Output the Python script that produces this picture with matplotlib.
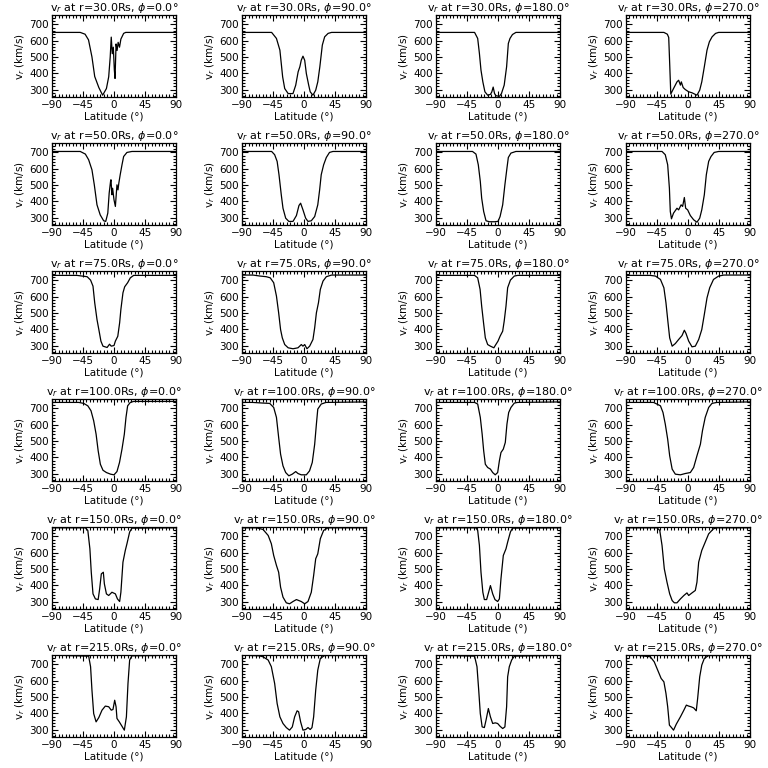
import matplotlib
matplotlib.use('Agg')
import matplotlib.pyplot as plt
from matplotlib.ticker import MultipleLocator

radii = [30.0, 50.0, 75.0, 100.0, 150.0, 215.0]
phis = [0.0, 90.0, 180.0, 270.0]
x_ticks = [-90, -45, 0, 45, 90]
y_ticks = [300, 400, 500, 600, 700]

# ---- r = 30 Rs ----
lat_r30_p0 = [-90, -49, -42, -37, -32, -28, -22, -16.5, -11, -7.7, -5.5, -4, -2.5, -1, 0.5, 1.5, 3, 4.5, 6, 8, 10, 14, 17, 90]
v_r30_p0 = [651, 651, 640, 605, 500, 380, 312, 265, 306, 378, 500, 622, 520, 560, 420, 368, 580, 540, 590, 560, 610, 645, 651, 651]
lat_r30_p90 = [-90, -47, -40, -35, -31, -28, -23, -16, -12, -8.5, -6, -4, -1.5, 1, 3.4, 6.8, 9, 13, 17, 20, 23, 26.6, 30, 35, 40, 90]
v_r30_p90 = [651, 651, 614, 542, 378, 306, 275, 275, 327, 409, 440, 480, 505, 480, 398, 327, 286, 265, 296, 347, 440, 573, 624, 645, 651, 651]
lat_r30_p180 = [-90, -34, -29.5, -27, -24.7, -22, -19, -15, -11, -9, -7, -5, -3, 2, 5, 9, 12.5, 15, 17.4, 21, 26, 90]
v_r30_p180 = [651, 651, 614, 522, 419, 347, 286, 265, 270, 285, 315, 275, 262, 258, 275, 327, 440, 583, 614, 638, 651, 651]
lat_r30_p270 = [-90, -35, -30, -28, -26.5, -25, -21, -16, -13.6, -11, -9.7, -7, -4, 1, 5.8, 13, 17, 20, 23.7, 27.6, 31, 35, 40, 44.5, 90]
v_r30_p270 = [651, 651, 640, 620, 450, 272, 306, 347, 357, 327, 347, 312, 300, 286, 280, 265, 296, 347, 440, 542, 593, 624, 645, 651, 651]

# ---- r = 50 Rs ----
lat_r50_p0 = [-90, -49, -41.6, -36.8, -32, -28.6, -24.7, -20, -15, -12, -9, -7, -5, -4.4, -3, -2, 0, 2, 4.3, 5.8, 7, 9, 11.6, 14, 18.8, 26, 90]
v_r50_p0 = [706, 706, 690, 655, 593, 501, 378, 316, 280, 276, 327, 450, 522, 532, 440, 480, 409, 368, 501, 470, 511, 563, 624, 675, 700, 706, 706]
lat_r50_p90 = [-90, -47, -42.6, -39, -36.3, -33, -30.5, -26.6, -22, -16, -11, -7.3, -4.9, -1.5, 2.4, 5.8, 10.6, 15.5, 20, 22.7, 25, 28.5, 32.4, 37, 42, 90]
v_r50_p90 = [706, 706, 686, 645, 563, 440, 357, 296, 276, 276, 312, 374, 388, 347, 296, 276, 280, 306, 378, 470, 563, 624, 669, 700, 706, 706]
lat_r50_p180 = [-90, -37, -32, -28.6, -25.7, -23.7, -20.8, -17.4, -12.6, -5, 0, 3, 6.8, 10, 13, 15, 18.8, 26, 90]
v_r50_p180 = [706, 706, 690, 624, 522, 419, 337, 280, 274, 274, 276, 306, 378, 501, 604, 669, 696, 706, 706]
lat_r50_p270 = [-90, -37.7, -33, -29.5, -27, -25.7, -24, -21, -16, -13.6, -10, -7.8, -5.3, -3.4, -0.5, 3.4, 8.2, 13, 17, 20, 23.7, 26.6, 30, 33.4, 38, 44.5, 90]
v_r50_p270 = [706, 706, 686, 624, 480, 337, 292, 327, 357, 347, 378, 368, 423, 357, 347, 312, 286, 271, 296, 347, 440, 563, 645, 675, 700, 706, 706]

# ---- r = 75 Rs ----
lat_r75_p0 = [-90, -53.7, -46.5, -39, -34, -30.5, -28, -24.7, -22, -19, -16, -10, -6.5, -4, 0, 2, 5.5, 8.2, 10, 13, 15.5, 19.8, 23.7, 28.5, 90]
v_r75_p0 = [731, 731, 727, 723, 702, 665, 563, 460, 398, 327, 296, 288, 308, 296, 300, 327, 357, 440, 522, 624, 661, 686, 716, 731, 731]
lat_r75_p90 = [-90, -74, -64, -54.7, -49, -44, -40, -36.8, -34, -31.5, -28, -23, -16, -8.7, -3.9, -1.5, 1, 4.3, 8.2, 13, 15.5, 18, 21, 23.7, 27.6, 32.4, 40, 90]
v_r75_p90 = [733, 733, 727, 723, 716, 686, 604, 501, 398, 347, 306, 286, 280, 286, 306, 296, 306, 280, 296, 337, 409, 501, 563, 645, 696, 723, 733, 733]
lat_r75_p180 = [-90, -34, -29.5, -26, -23.7, -21, -18.4, -15, -11, -6, -4, 0, 3, 6.8, 9, 11.6, 14, 18, 23.7, 28.5, 90]
v_r75_p180 = [731, 731, 716, 645, 542, 440, 347, 306, 296, 286, 300, 327, 357, 388, 450, 542, 655, 702, 727, 731, 731]
lat_r75_p270 = [-90, -54.7, -47.4, -40, -35, -32, -29, -26.6, -23, -18.4, -13.6, -8.7, -5.3, -2.9, 1, 5.8, 10.6, 15.5, 20, 23.7, 27.6, 31.5, 37, 44.5, 52, 90]
v_r75_p270 = [731, 731, 727, 706, 655, 563, 440, 347, 296, 312, 337, 361, 394, 374, 327, 292, 296, 337, 398, 491, 593, 655, 706, 727, 733, 733]

# ---- r = 100 Rs ----
lat_r100_p0 = [-90, -51, -44, -38, -33.4, -29.5, -26, -23, -19.8, -16, -11, -5, 0, 4.3, 8, 11.6, 15, 17.4, 19.8, 23.7, 28.5, 90]
v_r100_p0 = [737, 737, 731, 716, 686, 624, 542, 440, 357, 320, 306, 296, 292, 312, 368, 450, 542, 645, 716, 737, 743, 743]
lat_r100_p90 = [-90, -75, -59.5, -49.8, -44, -40, -36.8, -34, -30.5, -26.6, -22, -17, -12, -8.7, -4, 3.4, 8, 12, 15.5, 18, 20, 25, 32, 90]
v_r100_p90 = [737, 737, 733, 731, 706, 645, 522, 419, 347, 306, 286, 296, 312, 300, 292, 292, 316, 368, 480, 604, 696, 727, 737, 740]
lat_r100_p180 = [-90, -34, -29.5, -25.7, -23, -20.8, -18.4, -15, -11, -7.7, -4, -0.5, 2, 4.3, 7.7, 10.6, 13, 15.5, 18.8, 23.7, 28.5, 90]
v_r100_p180 = [737, 737, 727, 645, 542, 440, 357, 337, 327, 306, 292, 306, 378, 429, 450, 491, 604, 675, 706, 733, 737, 740]
lat_r100_p270 = [-90, -50, -40, -36.3, -33, -29.5, -26.6, -23, -18.4, -11, -3.9, 3.4, 8.2, 13, 18, 21, 25, 30, 34.8, 42, 90]
v_r100_p270 = [737, 737, 716, 675, 604, 511, 409, 327, 296, 292, 300, 306, 337, 409, 480, 563, 645, 706, 731, 737, 740]

# ---- r = 150 Rs ----
lat_r150_p0 = [-90, -41.6, -38, -35, -33, -30.5, -27, -23, -20.8, -18.4, -15.5, -14, -11, -7.7, -3, 2, 5, 8.2, 10, 13, 16.4, 18.8, 22.7, 26, 90]
v_r150_p0 = [753, 753, 737, 624, 480, 347, 316, 312, 378, 470, 480, 409, 347, 337, 357, 347, 316, 300, 357, 542, 614, 655, 727, 751, 753]
lat_r150_p90 = [-90, -69, -59.5, -52, -47.4, -44, -40, -36.8, -34, -30.5, -25.7, -21, -16, -11, -4, 1, 5.8, 10.6, 14, 17, 20, 23.7, 28.5, 34.8, 90]
v_r150_p90 = [753, 753, 743, 706, 655, 583, 522, 480, 388, 327, 292, 286, 300, 312, 300, 286, 300, 357, 460, 563, 593, 686, 737, 753, 753]
lat_r150_p180 = [-90, -32, -29.5, -27, -24.7, -22, -19.8, -16.5, -13.6, -11, -7.7, -4.4, -0.5, 2, 4.3, 7.7, 11.6, 14, 18, 21, 90]
v_r150_p180 = [753, 753, 737, 645, 480, 357, 312, 312, 357, 398, 347, 312, 300, 316, 440, 583, 624, 665, 727, 751, 753]
lat_r150_p270 = [-90, -45, -41, -37.7, -34.4, -30.5, -26.6, -23, -19.8, -16, -11, -6, -1.5, 1, 5.8, 10.6, 13, 15.5, 20, 25, 30, 37, 42, 90]
v_r150_p270 = [753, 753, 737, 645, 501, 419, 347, 306, 292, 292, 316, 337, 353, 337, 353, 368, 419, 542, 614, 665, 716, 747, 753, 753]

# ---- r = 215 Rs ----
lat_r215_p0 = [-90, -73, -71, -36.8, -34, -32, -29.5, -26, -22, -17.4, -12.6, -7.7, -4, -1.5, 1, 3, 4.3, 7.7, 11.6, 15, 18, 20.3, 22.7, 26, 63, 65, 90]
v_r215_p0 = [762, 762, 755, 751, 686, 542, 398, 347, 374, 419, 444, 440, 419, 423, 480, 440, 368, 347, 320, 296, 378, 583, 727, 753, 755, 762, 762]
lat_r215_p90 = [-90, -80, -78, -65, -59.5, -52, -47.4, -42.6, -39, -35, -30.5, -25.7, -21, -17, -13.6, -10, -7.8, -4.9, -1.5, 2.4, 5.8, 9, 11.6, 14, 17, 20, 23.7, 30, 63, 65, 90]
v_r215_p90 = [762, 762, 755, 753, 747, 727, 686, 583, 460, 378, 337, 312, 296, 316, 378, 415, 409, 347, 296, 300, 312, 300, 312, 378, 542, 665, 737, 755, 755, 762, 762]
lat_r215_p180 = [-90, -74, -72, -34, -30.5, -28, -25.7, -23, -19.8, -17.4, -14, -11, -7.7, -4, -0.5, 3, 6.8, 10, 12.5, 14, 16.4, 19.8, 23.7, 74, 76, 90]
v_r215_p180 = [762, 762, 755, 751, 686, 542, 398, 316, 312, 357, 429, 378, 337, 341, 337, 320, 306, 316, 440, 624, 686, 727, 751, 755, 762, 762]
lat_r215_p270 = [-90, -73, -71, -54.7, -49, -44, -39, -35, -32, -29.5, -27, -24, -21, -17, -11, -6, -2.4, 1, 4.3, 8.2, 12, 14, 17, 20, 23.7, 30, 56, 58, 90]
v_r215_p270 = [762, 762, 755, 747, 716, 665, 614, 593, 522, 440, 327, 312, 296, 333, 378, 419, 450, 444, 440, 433, 415, 491, 624, 696, 737, 755, 755, 762, 762]

panels = [
    [(lat_r30_p0, v_r30_p0), (lat_r30_p90, v_r30_p90), (lat_r30_p180, v_r30_p180), (lat_r30_p270, v_r30_p270)],
    [(lat_r50_p0, v_r50_p0), (lat_r50_p90, v_r50_p90), (lat_r50_p180, v_r50_p180), (lat_r50_p270, v_r50_p270)],
    [(lat_r75_p0, v_r75_p0), (lat_r75_p90, v_r75_p90), (lat_r75_p180, v_r75_p180), (lat_r75_p270, v_r75_p270)],
    [(lat_r100_p0, v_r100_p0), (lat_r100_p90, v_r100_p90), (lat_r100_p180, v_r100_p180), (lat_r100_p270, v_r100_p270)],
    [(lat_r150_p0, v_r150_p0), (lat_r150_p90, v_r150_p90), (lat_r150_p180, v_r150_p180), (lat_r150_p270, v_r150_p270)],
    [(lat_r215_p0, v_r215_p0), (lat_r215_p90, v_r215_p90), (lat_r215_p180, v_r215_p180), (lat_r215_p270, v_r215_p270)],
]

plt.rcParams['font.family'] = ['DejaVu Sans']
plt.rcParams['mathtext.fontset'] = 'dejavusans'

W = 768.0
fig = plt.figure(figsize=(7.68, 7.68), dpi=100)
fig.patch.set_facecolor('white')
col_left = [52, 242, 436, 626]
ax_w, ax_h = 124, 82

for i, r in enumerate(radii):
    for j, p in enumerate(phis):
        lat, v = panels[i][j]
        left = col_left[j] / W
        bottom = 1 - (97 + 128 * i) / W
        ax = fig.add_axes([left, bottom, ax_w / W, ax_h / W])
        ax.plot(lat, v, color='black', lw=0.9)
        ax.set_xlim(-90, 90)
        ax.set_ylim(254, 758)
        ax.set_xticks(x_ticks)
        ax.set_yticks(y_ticks)
        ax.xaxis.set_minor_locator(MultipleLocator(5))
        ax.yaxis.set_minor_locator(MultipleLocator(20))
        ax.tick_params(which='both', direction='in', top=True, right=True,
                       labelsize=7.5, width=0.8, pad=2)
        ax.tick_params(which='major', length=4)
        ax.tick_params(which='minor', length=2)
        for s in ax.spines.values():
            s.set_linewidth(0.9)
        fig.text((col_left[j] + ax_w / 2) / W, 1 - (11 + 128 * i) / W,
                 r'v$_r$ at r=%.1fRs, $\phi$=%.1f°' % (r, p),
                 fontsize=8, ha='center', va='baseline')
        ax.set_ylabel(r'v$_r$ (km/s)', fontsize=7.5, labelpad=2)
        ax.set_xlabel('Latitude (°)', fontsize=7.5, labelpad=1)

fig.savefig('out.png', dpi=100)
